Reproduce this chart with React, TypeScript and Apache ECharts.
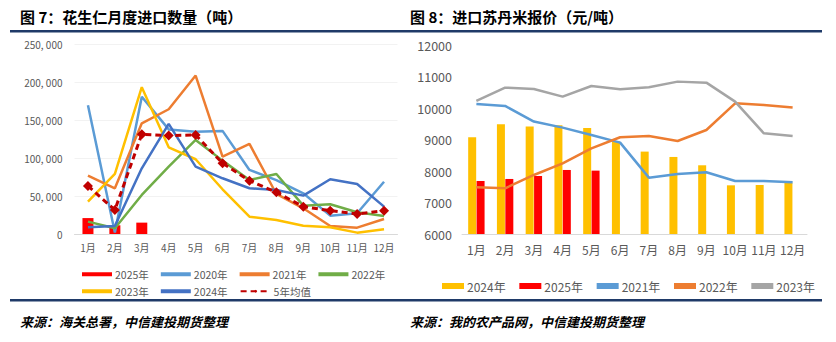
import React, { useEffect, useRef } from "react";
import * as echarts from "echarts";

const months = ["1月", "2月", "3月", "4月", "5月", "6月", "7月", "8月", "9月", "10月", "11月", "12月"];

// Left chart: peanut kernel imports (tons)
const imp2025 = [21000, 11500, 15000, null, null, null, null, null, null, null, null, null];
const imp2020 = [170000, 2000, 181000, 138000, 135000, 136000, 84500, 71000, 53700, 24200, 27300, 69000];
const imp2021 = [77000, 60300, 146000, 164600, 209000, 102100, 118800, 52800, 33900, 10600, 8400, 19800];
const imp2022 = [16300, 7500, 51500, 88900, 124100, 96800, 71300, 79200, 37400, 39200, 28600, 23800];
const imp2023 = [42700, 79200, 193700, 114400, 98600, 59000, 22900, 18500, 11000, 8800, 1800, 6200];
const imp2024 = [8800, 10600, 86700, 145200, 88900, 73500, 60300, 58100, 50600, 72200, 66000, 36100];
const impAvg = [63400, 31700, 131600, 129800, 130700, 93300, 70400, 55000, 36100, 30800, 26400, 30800];

// Right chart: imported Sudan rice quotes (yuan/ton)
const rice2024 = [9075, 9490, 9415, 9457, 9372, 8950, 8620, 8450, 8185, 7548, 7559, 7633];
const rice2025 = [7686, 7750, 7845, 8036, 8015, null, null, null, null, null, null, null];
const rice2021 = [10135, 10072, 9574, 9383, 9150, 8906, 7792, 7909, 7962, 7686, 7686, 7644];
const rice2022 = [7485, 7453, 7877, 8248, 8725, 9075, 9117, 8958, 9308, 10156, 10103, 10019];
const rice2023 = [10230, 10654, 10612, 10368, 10707, 10601, 10665, 10845, 10813, 10209, 9201, 9117];

const FONT = "'Noto Sans CJK SC', 'Noto Sans', sans-serif";
const NAVY = "#1F3A68";
const LABEL = "#595959";

export default function App() {
  const ref = useRef<HTMLDivElement>(null);
  useEffect(() => {
    document.body.style.margin = "0";
    const chart = echarts.init(ref.current!, null, { renderer: "svg" });
    const fmtThousands = (v: number) => {
      if (v === 0) return "0";
      const s = String(v);
      return s.slice(0, s.length - 3) + ", " + s.slice(s.length - 3);
    };
    const lineS = (name: string, data: any[], color: string, xi: number, w = 2.5) => ({
      name,
      type: "line",
      xAxisIndex: xi,
      yAxisIndex: xi,
      data,
      symbol: "none",
      lineStyle: { color, width: w },
      itemStyle: { color },
    });
    const legText = (fs: number) => ({ color: LABEL, fontSize: fs, padding: [0, 0, 0, -2] });
    chart.setOption({
      animation: false,
      textStyle: { fontFamily: FONT },
      grid: [
        { left: 74.5, top: 44.5, width: 323, height: 189.5 },
        { left: 462, top: 45.3, width: 345, height: 188.7 },
      ],
      xAxis: [
        {
          gridIndex: 0,
          type: "category",
          data: months,
          boundaryGap: true,
          axisLine: { lineStyle: { color: "#D9D9D9" } },
          axisTick: { show: false },
          axisLabel: { color: LABEL, fontSize: 10, margin: 8, interval: 0 },
        },
        {
          gridIndex: 1,
          type: "category",
          data: months,
          boundaryGap: true,
          axisLine: { lineStyle: { color: "#D9D9D9" } },
          axisTick: { show: false },
          axisLabel: { color: LABEL, fontSize: 12, margin: 9, interval: 0 },
        },
      ],
      yAxis: [
        {
          gridIndex: 0,
          type: "value",
          min: 0,
          max: 250000,
          interval: 50000,
          axisLine: { show: false },
          axisTick: { show: false },
          splitLine: { lineStyle: { color: "#F2F2F2" } },
          axisLabel: { color: LABEL, fontSize: 10, margin: 12, formatter: fmtThousands },
        },
        {
          gridIndex: 1,
          type: "value",
          min: 6000,
          max: 12000,
          interval: 1000,
          axisLine: { show: false },
          axisTick: { show: false },
          splitLine: { show: false },
          axisLabel: { color: LABEL, fontSize: 12.5, margin: 10, formatter: (v: number) => String(v) },
        },
      ],
      legend: [
        {
          left: 77,
          top: 264,
          itemWidth: 30,
          itemHeight: 4,
          itemGap: 12,
          textStyle: legText(10.5),
          data: [
            { name: "2025年", icon: "rect" },
            { name: "2020年", icon: "rect" },
            { name: "2021年", icon: "rect" },
            { name: "2022年", icon: "rect" },
          ],
        },
        {
          left: 77,
          top: 281,
          itemWidth: 30,
          itemHeight: 4,
          itemGap: 12,
          textStyle: legText(10.5),
          data: [
            { name: "2023年", icon: "rect" },
            { name: "2024年", icon: "rect" },
            "5年均值",
          ],
        },
        {
          left: 437,
          top: 275,
          itemWidth: 22,
          itemHeight: 6,
          itemGap: 11,
          textStyle: legText(12),
          data: [
            { name: "2024年 ", icon: "rect" },
            { name: "2025年 ", icon: "rect" },
            { name: "2021年 ", icon: "rect", itemHeight: 3 },
            { name: "2022年 ", icon: "rect", itemHeight: 3 },
            { name: "2023年 ", icon: "rect", itemHeight: 3 },
          ],
        },
      ],
      graphic: [
        { type: "text", left: 20, top: 9, style: { text: "图 7：花生仁月度进口数量（吨）", font: `bold 15px ${FONT}`, fill: "#000" } },
        { type: "text", left: 410, top: 9, style: { text: "图 8：进口苏丹米报价（元/吨）", font: `bold 15px ${FONT}`, fill: "#000" } },
        { type: "rect", shape: { x: 10, y: 30, width: 400, height: 2.5 }, style: { fill: NAVY } },
        { type: "rect", shape: { x: 410, y: 30, width: 412, height: 2.5 }, style: { fill: NAVY } },
        { type: "rect", shape: { x: 10, y: 299, width: 400, height: 2.5 }, style: { fill: NAVY } },
        { type: "rect", shape: { x: 410, y: 299, width: 412, height: 2.5 }, style: { fill: NAVY } },
        { type: "text", left: 20, top: 315, style: { text: "来源：海关总署，中信建投期货整理", font: `italic bold 13px ${FONT}`, fill: "#000" } },
        { type: "text", left: 410, top: 315, style: { text: "来源：我的农产品网，中信建投期货整理", font: `italic bold 13px ${FONT}`, fill: "#000" } },
      ],
      series: [
        {
          name: "2025年",
          type: "bar",
          xAxisIndex: 0,
          yAxisIndex: 0,
          data: imp2025,
          barWidth: 11,
          itemStyle: { color: "#FF0000" },
        },
        lineS("2020年", imp2020, "#5B9BD5", 0),
        lineS("2021年", imp2021, "#ED7D31", 0),
        lineS("2022年", imp2022, "#70AD47", 0),
        lineS("2023年", imp2023, "#FFC000", 0),
        lineS("2024年", imp2024, "#4472C4", 0),
        {
          name: "5年均值",
          type: "line",
          xAxisIndex: 0,
          yAxisIndex: 0,
          data: impAvg,
          symbol: "diamond",
          symbolSize: 10,
          lineStyle: { color: "#C00000", width: 3, type: [6, 4] },
          itemStyle: { color: "#C00000" },
          z: 5,
        },
        {
          name: "2024年 ",
          type: "bar",
          xAxisIndex: 1,
          yAxisIndex: 1,
          data: rice2024,
          barWidth: 8,
          barGap: "5%",
          itemStyle: { color: "#FFC000" },
        },
        {
          name: "2025年 ",
          type: "bar",
          xAxisIndex: 1,
          yAxisIndex: 1,
          data: rice2025,
          barWidth: 8,
          barGap: "5%",
          itemStyle: { color: "#FF0000" },
        },
        lineS("2021年 ", rice2021, "#5B9BD5", 1),
        lineS("2022年 ", rice2022, "#ED7D31", 1),
        lineS("2023年 ", rice2023, "#A5A5A5", 1),
      ],
    });
    return () => chart.dispose();
  }, []);
  return <div ref={ref} style={{ width: 836, height: 342 }} />;
}
